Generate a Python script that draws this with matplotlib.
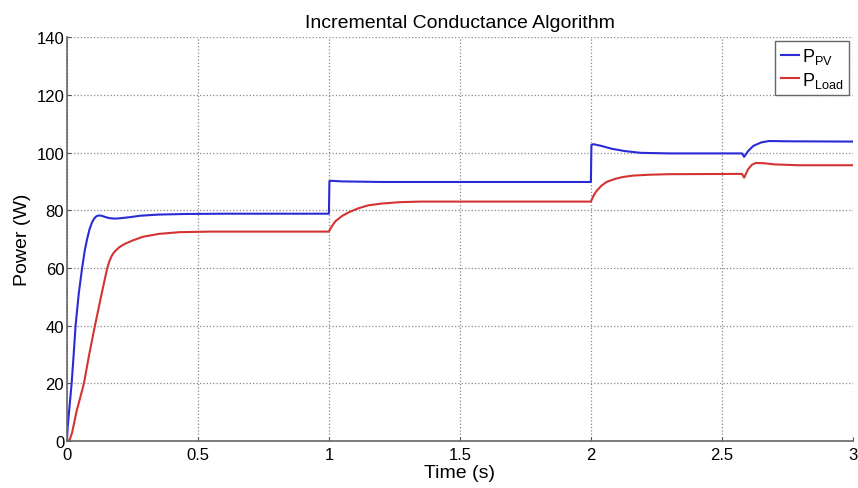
"""
Incremental conductance MPPT: PV power vs load power.
"""

import matplotlib

matplotlib.use("Agg")
import matplotlib.pyplot as plt

plt.rcParams["font.family"] = ["Liberation Sans", "DejaVu Sans"]

# values (time in s, power in W)
t_pv = [0, 0.003, 0.008, 0.018, 0.025, 0.033, 0.045, 0.058, 0.068, 0.077,
        0.086, 0.095, 0.103, 0.112, 0.122, 0.132, 0.145, 0.16, 0.18, 0.2,
        0.24, 0.28, 0.35, 0.45, 0.6, 1.0,
        1.002, 1.01, 1.05, 1.2, 2.0,
        2.002, 2.01, 2.04, 2.08, 2.13, 2.19, 2.3, 2.577,
        2.585, 2.6, 2.62, 2.65, 2.68, 2.75, 3.0]
p_pv = [0, 5, 10, 20, 29, 40, 51, 60, 66, 70,
        73.3, 75.6, 77.0, 77.9, 78.2, 78.1, 77.7, 77.3, 77.1, 77.2,
        77.6, 78.1, 78.5, 78.7, 78.8, 78.8,
        90.1, 90.2, 90.0, 89.8, 89.8,
        102.6, 102.9, 102.3, 101.3, 100.5, 99.9, 99.7, 99.7,
        98.5, 100.5, 102.3, 103.5, 104.0, 103.9, 103.8]

t_load = [0, 0.01, 0.02, 0.036, 0.065, 0.085, 0.107, 0.13, 0.154, 0.162,
          0.17, 0.178, 0.186, 0.2, 0.22, 0.25, 0.29, 0.35, 0.43, 0.55, 0.7, 1.0,
          1.01, 1.025, 1.05, 1.076, 1.11, 1.15, 1.2, 1.27, 1.35, 1.45, 1.6, 2.0,
          2.01, 2.02, 2.04, 2.06, 2.09, 2.12, 2.16, 2.22, 2.3, 2.577,
          2.585, 2.6, 2.615, 2.63, 2.66, 2.7, 2.79, 3.0]
p_load = [0, 0.3, 3, 10, 20, 30, 40, 50, 60, 62.3,
          64.0, 65.2, 66.0, 67.2, 68.3, 69.5, 70.8, 71.8, 72.4, 72.6, 72.6, 72.6,
          74.3, 76.2, 78.0, 79.3, 80.6, 81.7, 82.3, 82.8, 83.0, 83.0, 83.0, 83.0,
          85.0, 86.5, 88.5, 89.8, 90.8, 91.5, 92.0, 92.3, 92.5, 92.6,
          91.3, 94.2, 95.8, 96.4, 96.3, 95.9, 95.6, 95.6]

x_ticks = [0, 0.5, 1, 1.5, 2, 2.5, 3]
x_labels = ["0", "0.5", "1", "1.5", "2", "2.5", "3"]
y_ticks = [0, 20, 40, 60, 80, 100, 120, 140]

fig = plt.figure(figsize=(8.58, 4.89), dpi=100)
ax = fig.add_axes([0.078, 0.096, 0.916, 0.826])

ax.plot(t_pv, p_pv, color="#2b2bd6", lw=1.5, label=r"P$_{\mathregular{PV}}$")
ax.plot(t_load, p_load, color="#d43333", lw=1.5, label=r"P$_{\mathregular{Load}}$")

ax.set_xlim(0, 3)
ax.set_ylim(0, 140)
ax.set_xticks(x_ticks, x_labels)
ax.set_yticks(y_ticks)
ax.tick_params(direction="in", labelsize=12, length=3, color="#555555")
ax.tick_params(axis="x", pad=4)
ax.tick_params(axis="y", pad=2)
ax.grid(True, linestyle=":", color="#888888", linewidth=0.9)

for side in ["top", "right"]:
    ax.spines[side].set_visible(False)
for side in ["left", "bottom"]:
    ax.spines[side].set_color("#666666")
    ax.spines[side].set_linewidth(1.2)

ax.set_title("Incremental Conductance Algorithm", fontsize=14, pad=7)
ax.set_xlabel("Time (s)", fontsize=14, labelpad=2)
ax.set_ylabel("Power (W)", fontsize=14, labelpad=4)

leg = ax.legend(loc="upper right", bbox_to_anchor=(1.0, 1.0), fontsize=13,
                handlelength=1.0, handletextpad=0.2, borderpad=0.3,
                labelspacing=0.2, fancybox=False, framealpha=1,
                borderaxespad=0.2)
leg.get_frame().set_edgecolor("#666666")
leg.get_frame().set_linewidth(1.0)

fig.savefig("out.png", dpi=100)
